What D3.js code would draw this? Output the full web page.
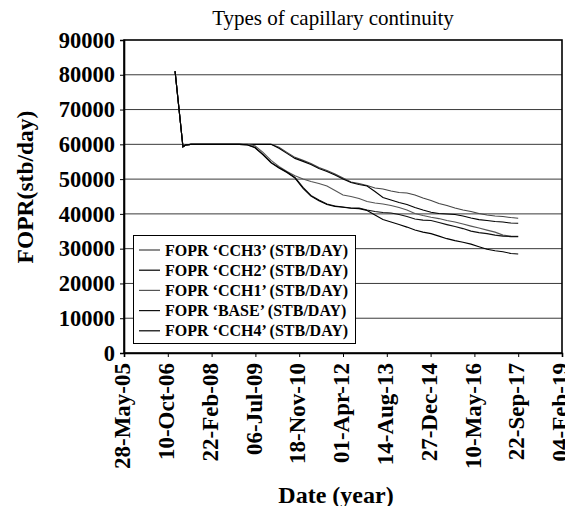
<!DOCTYPE html>
<html><head><meta charset="utf-8">
<script src="https://cdn.jsdelivr.net/npm/d3@7"></script>
<style>body{margin:0;background:#fff}svg{display:block}</style>
</head><body>
<svg id="c" width="565" height="506"></svg>
<script>
const title = "Types of capillary continuity";
const yLabel = "FOPR(stb/day)";
const xLabel = "Date (year)";
const seriesNames = ["FOPR \u2018CCH3\u2019 (STB/DAY)","FOPR \u2018CCH2\u2019 (STB/DAY)","FOPR \u2018CCH1\u2019 (STB/DAY)","FOPR \u2018BASE\u2019 (STB/DAY)","FOPR \u2018CCH4\u2019 (STB/DAY)"];
const seriesColors = ["#444","#000","#555","#111","#000"];
const yTicks = [0,10000,20000,30000,40000,50000,60000,70000,80000,90000];
const xTickDates = ["2005-05-28","2006-10-10","2008-02-22","2009-07-06","2010-11-18","2012-04-01","2013-08-14","2014-12-27","2016-05-10","2017-09-22","2019-02-04"];
const dates = ["2007-01-01","2007-04-01","2007-05-01","2007-07-01","2008-01-01","2008-07-01",
 "2009-01-01","2009-04-01","2009-07-01","2009-10-01","2010-01-01","2010-04-01","2010-07-01","2010-10-01",
 "2011-01-01","2011-04-01","2011-07-01","2011-10-01","2012-01-01","2012-04-01","2012-07-01","2012-10-01",
 "2013-01-01","2013-04-01","2013-07-01","2013-10-01","2014-01-01","2014-04-01","2014-07-01","2014-10-01",
 "2015-01-01","2015-04-01","2015-07-01","2015-10-01","2016-01-01","2016-04-01","2016-07-01","2016-10-01",
 "2017-01-01","2017-04-01","2017-07-01","2017-09-22"];
const cch3 = [81000,59300,59800,60000,60000,60000,
 60000,60000,60000,60000,60000,59130,57690,56250,
 55385,54520,53365,52500,51490,50340,49180,48750,
 48170,47450,47160,46590,46150,46010,45430,44570,
 43850,42990,42400,41680,41110,40670,40100,39660,
 39380,39230,38940,38740];
const cch2 = [81000,59300,59800,60000,60000,60000,
 60000,60000,60000,60000,60000,58850,57400,55960,
 55100,54230,53080,52210,51200,50050,49040,48460,
 48030,46440,44710,43990,43270,42690,41830,41110,
 40470,40100,39950,39810,39380,38800,38360,38080,
 37790,37650,37360,37300];
const cch1 = [81000,59300,59800,60000,60000,60000,
 60000,60000,59570,57690,55385,53650,52210,50970,
 50050,49330,48750,48030,46730,45430,45000,44420,
 43560,43130,42840,42400,41830,41110,40100,39520,
 39030,38650,38080,37650,37070,36490,35920,35340,
 34760,33900,33610,33550];
const base = [81000,59300,59800,60000,60000,60000,
 60000,59900,59135,57115,54808,53365,52065,50480,
 47600,45290,43990,42840,42260,41970,41680,41680,
 41110,40670,40380,40240,39810,39230,38510,38220,
 38080,37500,36920,36350,35770,35050,34620,34330,
 33900,33610,33460,33460];
const cch4 = [81000,59300,59800,60000,60000,60000,
 60000,59850,59000,56950,54650,53200,51900,50300,
 47350,45100,43800,42700,42150,41900,41600,41500,
 40950,39660,38360,37650,36920,36200,35340,34760,
 34330,33610,32880,32310,31870,31300,30580,29850,
 29420,29130,28610,28460];
const seriesValues = [cch3, cch2, cch1, base, cch4];

const parse = d3.timeParse("%Y-%m-%d");
const fmt = d3.timeFormat("%d-%b-%y");
const svg = d3.select("#c");
const L = 124, R = 562, T = 40, B = 353;
const x = d3.scaleTime().domain([parse(xTickDates[0]), parse(xTickDates[xTickDates.length-1])]).range([L, R]);
const y = d3.scaleLinear().domain([0, 90000]).range([B, T]);
const serif = "Liberation Serif, Times New Roman, serif";

// gridlines
svg.append("g").selectAll("line").data(yTicks.filter(v => v > 0 && v < 90000)).join("line")
  .attr("x1", L).attr("x2", R).attr("y1", d => y(d)).attr("y2", d => y(d))
  .attr("stroke", "#3a3a3a").attr("stroke-width", 1);

// series
const line = d3.line().x((d, i) => x(parse(dates[i]))).y(d => y(d));
svg.append("g").selectAll("path").data(seriesValues).join("path")
  .attr("d", d => line(d)).attr("fill", "none")
  .attr("stroke", (d, i) => seriesColors[i]).attr("stroke-width", 1.1);

// frame
svg.append("rect").attr("x", L).attr("y", T).attr("width", R - L).attr("height", B - T)
  .attr("fill", "none").attr("stroke", "#000").attr("stroke-width", 1.6);

// y axis
const ya = svg.append("g").attr("transform", `translate(${L},0)`)
  .call(d3.axisLeft(y).tickValues(yTicks).tickSize(4).tickPadding(5).tickFormat(d3.format("d")));
ya.select(".domain").attr("stroke-width", 1.6);
ya.selectAll("text").attr("font-family", serif).attr("font-weight", "bold").attr("font-size", 22.5).attr("fill", "#000");

// x axis
const xa = svg.append("g").attr("transform", `translate(0,${B})`)
  .call(d3.axisBottom(x).tickValues(xTickDates.map(parse)).tickSize(4).tickFormat(fmt));
xa.select(".domain").attr("stroke-width", 1.6);
xa.selectAll("text").attr("font-family", serif).attr("font-weight", "bold").attr("font-size", 23).attr("fill", "#000")
  .attr("text-anchor", "end").attr("transform", "rotate(-90)")
  .attr("x", -10).attr("y", 0).attr("dy", "0.25em");

// title and labels
svg.append("text").attr("x", 333).attr("y", 25).attr("text-anchor", "middle")
  .attr("font-family", serif).attr("font-size", 21).text(title);
svg.append("text").attr("transform", "translate(33,187) rotate(-90)").attr("text-anchor", "middle")
  .attr("font-family", serif).attr("font-weight", "bold").attr("font-size", 23.5).text(yLabel);
svg.append("text").attr("x", 336).attr("y", 503).attr("text-anchor", "middle")
  .attr("font-family", serif).attr("font-weight", "bold").attr("font-size", 24).text(xLabel);

// legend
const lg = svg.append("g");
lg.append("rect").attr("x", 133.5).attr("y", 235.5).attr("width", 222).attr("height", 108)
  .attr("fill", "#fff").attr("stroke", "#000").attr("stroke-width", 1);
const items = lg.selectAll("g.it").data(seriesNames).join("g").attr("class", "it")
  .attr("transform", (d, i) => `translate(0,${250 + i * 20.2})`);
items.append("line").attr("x1", 139).attr("x2", 160).attr("stroke", (d, i) => seriesColors[i]).attr("stroke-width", 1.2);
items.append("text").attr("x", 165).attr("dy", "0.35em").attr("font-family", serif).attr("font-weight", "bold")
  .attr("font-size", 16).text(d => d);
</script>
</body></html>
